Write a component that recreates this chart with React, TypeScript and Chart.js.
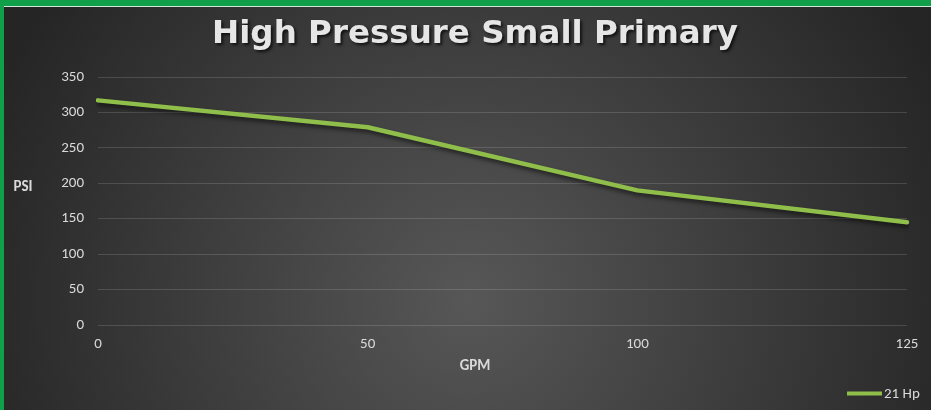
import React, { useEffect, useRef } from "react";
import { Chart, registerables } from "chart.js";

Chart.register(...registerables);

const titleText = "High Pressure Small Primary";
const xAxisTitle = "GPM";
const yAxisTitle = "PSI";
const categories = ["0", "50", "100", "125"];
const seriesLabel = "21 Hp";
const psiValues = [317, 279, 190, 145];
const yMin = 0;
const yMax = 350;
const yStep = 50;

const W = 931;
const H = 410;
const FONT = "Carlito, 'Liberation Sans', Arial, sans-serif";
const LINE_COLOR = "#8fbf4a";
const TEXT_COLOR = "#d9d9d9";

const decorPlugin = {
  id: "decor",
  beforeDraw(chart: any) {
    const ctx = chart.ctx;
    ctx.save();
    ctx.fillStyle = "#10a04a";
    ctx.fillRect(0, 0, W, H);
    ctx.fillStyle = "#cfe9d8";
    ctx.fillRect(4, 6, W - 4, 1);
    const g = ctx.createRadialGradient(470, 300, 0, 470, 300, 520);
    g.addColorStop(0, "#575757");
    g.addColorStop(1, "#252525");
    ctx.fillStyle = g;
    ctx.fillRect(4, 7, W - 4, H - 7);
    ctx.restore();
  },
  beforeDatasetDraw(chart: any) {
    const ctx = chart.ctx;
    ctx.save();
    ctx.shadowColor = "rgba(0,0,0,0.55)";
    ctx.shadowBlur = 4;
    ctx.shadowOffsetX = 1;
    ctx.shadowOffsetY = 3;
  },
  afterDatasetDraw(chart: any) {
    chart.ctx.restore();
  },
  afterDraw(chart: any) {
    const ctx = chart.ctx;
    ctx.save();
    ctx.font = `bold 32.5px 'DejaVu Sans', Verdana, sans-serif`;
    ctx.textAlign = "center";
    ctx.textBaseline = "middle";
    ctx.shadowColor = "rgba(0,0,0,0.7)";
    ctx.shadowBlur = 3;
    ctx.shadowOffsetX = 2;
    ctx.shadowOffsetY = 2;
    ctx.fillStyle = "#e6e6e6";
    ctx.fillText(titleText, 475, 35);
    ctx.shadowColor = "transparent";
    ctx.shadowBlur = 0;
    ctx.shadowOffsetX = 0;
    ctx.shadowOffsetY = 0;

    ctx.fillStyle = TEXT_COLOR;
    ctx.font = `bold 15px ${FONT}`;
    ctx.fillText(yAxisTitle, 23, 187);
    ctx.fillText(xAxisTitle, 475, 366);

    const ds = chart.data.datasets[0];
    ctx.strokeStyle = ds.borderColor;
    ctx.lineWidth = 4;
    ctx.beginPath();
    ctx.moveTo(847, 393.5);
    ctx.lineTo(882, 393.5);
    ctx.stroke();
    ctx.font = `15px ${FONT}`;
    ctx.textAlign = "left";
    ctx.fillStyle = TEXT_COLOR;
    ctx.fillText(ds.label, 884, 394);
    ctx.restore();
  },
};

export default function App() {
  const ref = useRef<HTMLCanvasElement | null>(null);
  useEffect(() => {
    document.body.style.margin = "0";
    const canvas = ref.current!;
    const chart = new Chart(canvas, {
      type: "line",
      data: {
        labels: categories,
        datasets: [
          {
            label: seriesLabel,
            data: psiValues,
            borderColor: LINE_COLOR,
            backgroundColor: LINE_COLOR,
            borderWidth: 4.5,
            pointRadius: 0,
            tension: 0,
            fill: false,
            borderCapStyle: "round",
            borderJoinStyle: "round",
          },
        ],
      },
      options: {
        animation: false,
        responsive: false,
        devicePixelRatio: 1,
        layout: { padding: { top: 77, right: 24, bottom: 55, left: 0 } },
        plugins: {
          legend: { display: false },
          title: { display: false },
          tooltip: { enabled: false },
        },
        scales: {
          x: {
            type: "category",
            offset: false,
            grid: { display: false, drawTicks: false },
            border: { display: false },
            ticks: {
              color: TEXT_COLOR,
              font: { family: FONT, size: 15 },
              padding: 10,
              maxRotation: 0,
              autoSkip: false,
            },
            afterFit(scale: any) {
              scale.height = 30;
            },
          },
          y: {
            min: yMin,
            max: yMax,
            grid: {
              color: "rgba(255,255,255,0.14)",
              lineWidth: 1,
              drawTicks: false,
            },
            border: { display: false },
            ticks: {
              stepSize: yStep,
              color: TEXT_COLOR,
              font: { family: FONT, size: 15 },
              padding: 14,
            },
            afterFit(scale: any) {
              scale.width = 98;
            },
          },
        },
      },
      plugins: [decorPlugin],
    });
    return () => chart.destroy();
  }, []);
  return <canvas ref={ref} width={W} height={H} style={{ display: "block" }} />;
}
